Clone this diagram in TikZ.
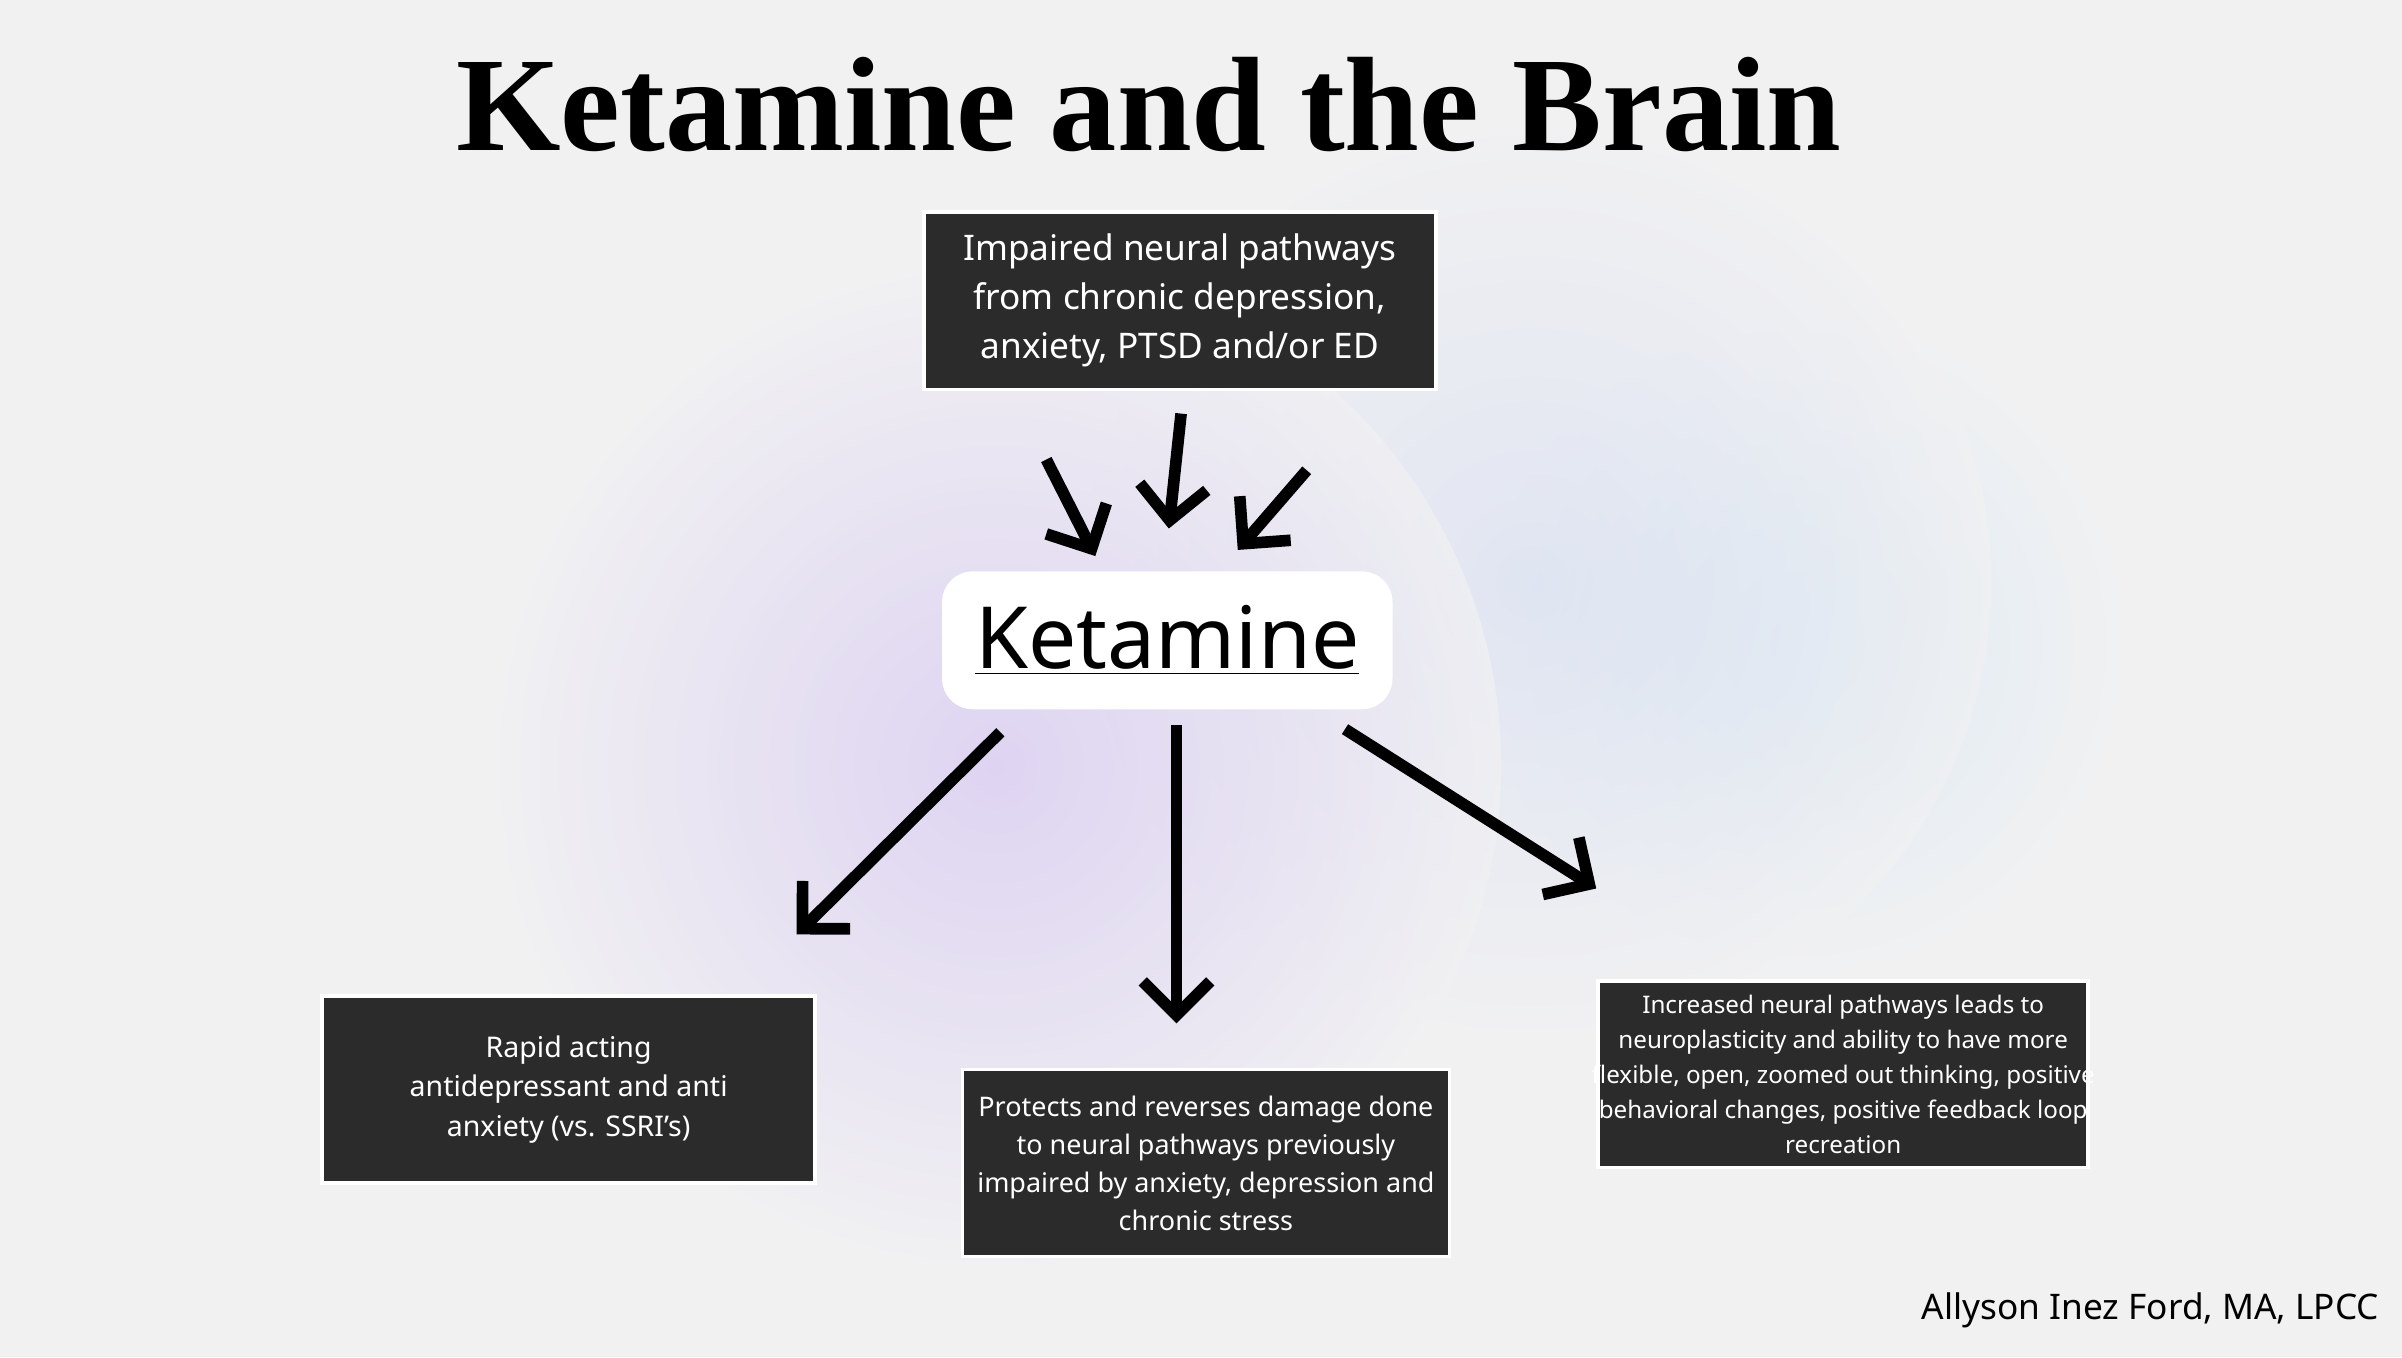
\documentclass[tikz,border=0pt]{standalone}
\usepackage{fontspec}
\setmainfont{Noto Sans}
\newfontfamily\titlefont{Liberation Serif}
\usetikzlibrary{arrows.meta}
\definecolor{bg}{RGB}{241,241,242}
\definecolor{boxc}{RGB}{43,43,43}
\definecolor{gpurp}{RGB}{215,200,242}
\definecolor{gblue}{RGB}{215,222,242}
\definecolor{gcyan}{RGB}{220,234,245}
\begin{document}
\begin{tikzpicture}[x=0.5pt,y=-0.5pt,
  dbox/.style={fill=boxc,draw=white,line width=1.2pt,text=white,align=center,inner sep=0pt,anchor=north west},
  arr/.style={line width=3.8pt,-{Straight Barb[length=11pt,width=22pt,line width=3.8pt]}}]
\fill[bg] (0,0) rectangle (1568,886);
\useasboundingbox (0,0) rectangle (1568,886);
\shade[inner color=gcyan,outer color=bg] (1170,420) circle[radius=220];
\shade[inner color=gblue,outer color=bg,opacity=0.6] (1000,380) circle[radius=300];
\shade[inner color=gpurp,outer color=bg,opacity=0.7] (650,500) circle[radius=330];
\node[anchor=center] (title) at (750,68) {\resizebox{452pt}{!}{\titlefont\bfseries Ketamine and the Brain}};
\node[dbox,minimum width=167pt,minimum height=58pt] (top) at (602,137) {};
\node[text=white,align=center,font=\fontsize{11.5}{16}\selectfont] at (top.center) {Impaired neural pathways\\from chronic depression,\\anxiety, PTSD and/or ED};
\node[fill=white,rounded corners=10pt,minimum width=147pt,minimum height=45pt,inner sep=0pt] (ket) at (762,418) {};
\node[font=\fontsize{28}{30}\selectfont\bfseries] at (ket.center) {\underline{Ketamine}};
\node[dbox,minimum width=161pt,minimum height=61pt] (left) at (209,649) {};
\node[text=white,align=center,font=\fontsize{9.3}{13}\selectfont] at (left.center) {Rapid acting\\antidepressant and anti\\anxiety (vs. SSRI's)};
\node[dbox,minimum width=159pt,minimum height=61pt] (mid) at (627,697) {};
\node[text=white,align=center,font=\fontsize{8.8}{12.4}\selectfont] at (mid.center) {Protects and reverses damage done\\to neural pathways previously\\impaired by anxiety, depression and\\chronic stress};
\node[dbox,minimum width=160pt,minimum height=61pt] (right) at (1042,639) {};
\node[text=white,align=center,font=\fontsize{7.9}{11.4}\selectfont] at (right.center) {Increased neural pathways leads to\\neuroplasticity and ability to have more\\flexible, open, zoomed out thinking, positive\\behavioral changes, positive feedback loop\\recreation};
\coordinate (a1) at (683,300); \coordinate (b1) at (715,363);
\coordinate (a2) at (771,270); \coordinate (b2) at (763,345);
\coordinate (a3) at (853,307); \coordinate (b3) at (808,359);
\coordinate (a4) at (653,478); \coordinate (b4) at (520,610);
\coordinate (a5) at (768,473); \coordinate (b5) at (768,668);
\coordinate (a6) at (878,476); \coordinate (b6) at (1042,580);
\foreach \i in {1,...,6} \draw[arr] (a\i) -- (b\i);
\node[anchor=south east,font=\fontsize{11.5}{14}\selectfont] (auth) at (1560,874) {Allyson Inez Ford, MA, LPCC};
\end{tikzpicture}
\end{document}
